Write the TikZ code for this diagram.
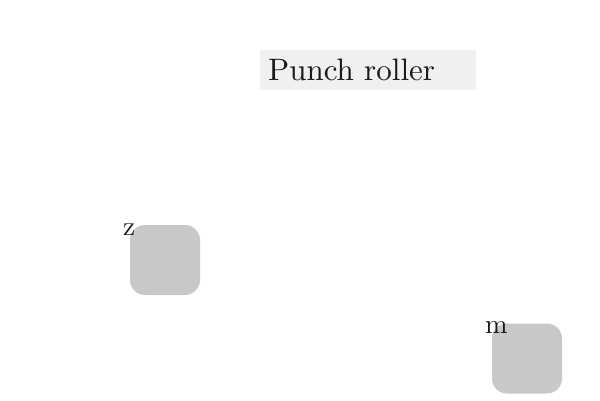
\documentclass[tikz,border=0pt]{standalone}
\usepackage{fontspec}
\newfontfamily\tenfont{lmroman10-regular.otf}
\usetikzlibrary{positioning}
\definecolor{panelGray}{RGB}{240,240,240}
\definecolor{partGray}{RGB}{200,200,200}
\begin{document}
\begin{tikzpicture}[x=1pt, y=-1pt,
  title/.style={fill=panelGray, text width=200pt, align=left, inner xsep=8pt,
                inner ysep=0pt, minimum height=40pt, text=black!90,
                font=\tenfont\fontsize{31}{36}\selectfont},
  part/.style={fill=partGray, rounded corners=15pt, minimum size=70pt, inner sep=0pt},
  tag/.style={font=\tenfont\fontsize{27}{32}\selectfont, inner sep=0pt, anchor=base west, text=black!90}]
  \useasboundingbox (0,0) rectangle (600,400);
  \node[title, anchor=west] (heading) at (260,70) {Punch roller};
  \node[part] (z) at (165,260) {};
  \node[tag] (zlabel) at (123,235) {z};
  \node[part] (m) at (527,358.5) {};
  \node[tag] (mlabel) at (485,333) {m};
\end{tikzpicture}
\end{document}
